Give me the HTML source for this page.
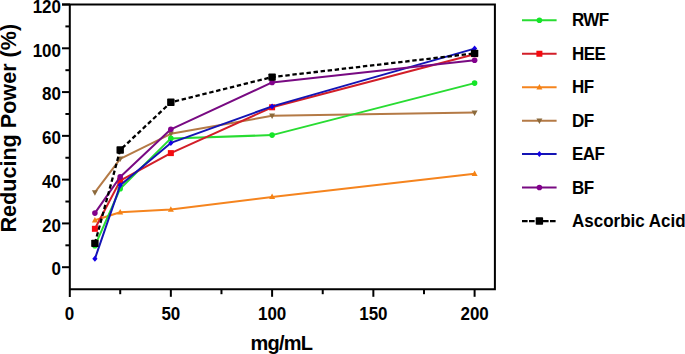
<!DOCTYPE html>
<html><head><meta charset="utf-8"><style>
html,body{margin:0;padding:0;background:#fff;width:685px;height:354px;overflow:hidden}
svg{display:block}
text{font-family:"Liberation Sans",sans-serif;font-weight:bold;fill:#000}
</style></head><body>
<svg width="685" height="354" viewBox="0 0 685 354">
<rect width="685" height="354" fill="#fff"/>
<g stroke="#000" stroke-width="2" fill="none" stroke-linecap="butt">
<path d="M62,4.6 H494.9 V289.2 H69.8 M69.8,3.6 V297"/>
<path d="M62,267.20 H70"/>
<path d="M62,223.42 H70"/>
<path d="M62,179.64 H70"/>
<path d="M62,135.86 H70"/>
<path d="M62,92.08 H70"/>
<path d="M62,48.30 H70"/>
<path d="M62,4.52 H70"/>
<path d="M65.4,245.31 H70"/>
<path d="M65.4,201.53 H70"/>
<path d="M65.4,157.75 H70"/>
<path d="M65.4,113.97 H70"/>
<path d="M65.4,70.19 H70"/>
<path d="M65.4,26.41 H70"/>
<path d="M170.85,289 V296.8"/>
<path d="M272.10,289 V296.8"/>
<path d="M373.35,289 V296.8"/>
<path d="M474.60,289 V296.8"/>
<path d="M120.22,289 V294.2"/>
<path d="M221.47,289 V294.2"/>
<path d="M322.73,289 V294.2"/>
<path d="M423.98,289 V294.2"/>
</g>
<g font-size="17" text-anchor="end">
<text transform="translate(61,275.40) scale(1,1.08)">0</text>
<text transform="translate(61,231.62) scale(1,1.08)">20</text>
<text transform="translate(61,187.84) scale(1,1.08)">40</text>
<text transform="translate(61,144.06) scale(1,1.08)">60</text>
<text transform="translate(61,100.28) scale(1,1.08)">80</text>
<text transform="translate(61,56.50) scale(1,1.08)">100</text>
<text transform="translate(61,12.72) scale(1,1.08)">120</text>
</g>
<g font-size="17" text-anchor="middle">
<text transform="translate(69.60,319.7) scale(1,1.08)">0</text>
<text transform="translate(170.85,319.7) scale(1,1.08)">50</text>
<text transform="translate(272.10,319.7) scale(1,1.08)">100</text>
<text transform="translate(373.35,319.7) scale(1,1.08)">150</text>
<text transform="translate(474.60,319.7) scale(1,1.08)">200</text>
</g>
<text font-size="21.6" transform="translate(15.5,232.6) rotate(-90)">Reducing Power (%)</text>
<text font-size="20" x="250.6" y="349.8" letter-spacing="-0.8">mg/mL</text>
<polyline points="94.90,220.30 120.20,212.30 170.85,209.50 272.10,196.90 474.60,173.70" fill="none" stroke="#f5841e" stroke-width="2" stroke-linejoin="round"/>
<path d="M94.90,217.00 L97.90,222.50 L91.90,222.50Z" fill="#f58214"/>
<path d="M120.20,209.00 L123.20,214.50 L117.20,214.50Z" fill="#f58214"/>
<path d="M170.85,206.20 L173.85,211.70 L167.85,211.70Z" fill="#f58214"/>
<path d="M272.10,193.60 L275.10,199.10 L269.10,199.10Z" fill="#f58214"/>
<path d="M474.60,170.40 L477.60,175.90 L471.60,175.90Z" fill="#f58214"/>
<polyline points="94.90,192.40 120.20,158.80 170.85,133.80 272.10,115.80 474.60,112.60" fill="none" stroke="#b47a46" stroke-width="2" stroke-linejoin="round"/>
<path d="M94.90,195.70 L97.90,190.20 L91.90,190.20Z" fill="#8c6a3c"/>
<path d="M120.20,162.10 L123.20,156.60 L117.20,156.60Z" fill="#8c6a3c"/>
<path d="M170.85,137.10 L173.85,131.60 L167.85,131.60Z" fill="#8c6a3c"/>
<path d="M272.10,119.10 L275.10,113.60 L269.10,113.60Z" fill="#8c6a3c"/>
<path d="M474.60,115.90 L477.60,110.40 L471.60,110.40Z" fill="#8c6a3c"/>
<polyline points="94.90,245.80 120.20,188.70 170.85,138.40 272.10,135.10 474.60,83.10" fill="none" stroke="#28dc32" stroke-width="2" stroke-linejoin="round"/>
<circle cx="94.90" cy="245.80" r="2.8" fill="#14e628"/>
<circle cx="120.20" cy="188.70" r="2.8" fill="#14e628"/>
<circle cx="170.85" cy="138.40" r="2.8" fill="#14e628"/>
<circle cx="272.10" cy="135.10" r="2.8" fill="#14e628"/>
<circle cx="474.60" cy="83.10" r="2.8" fill="#14e628"/>
<polyline points="94.90,228.80 120.20,180.70 170.85,153.10 272.10,107.30 474.60,54.20" fill="none" stroke="#d21e28" stroke-width="2" stroke-linejoin="round"/>
<rect x="91.90" y="225.80" width="6" height="6" fill="#f50a0f"/>
<rect x="117.20" y="177.70" width="6" height="6" fill="#f50a0f"/>
<rect x="167.85" y="150.10" width="6" height="6" fill="#f50a0f"/>
<rect x="269.10" y="104.30" width="6" height="6" fill="#f50a0f"/>
<rect x="471.60" y="51.20" width="6" height="6" fill="#f50a0f"/>
<polyline points="94.90,258.80 120.20,185.30 170.85,142.90 272.10,106.40 474.60,48.60" fill="none" stroke="#1414b4" stroke-width="2" stroke-linejoin="round"/>
<path d="M94.90,255.80 L97.50,258.80 L94.90,261.80 L92.30,258.80Z" fill="#1400e6"/>
<path d="M120.20,182.30 L122.80,185.30 L120.20,188.30 L117.60,185.30Z" fill="#1400e6"/>
<path d="M170.85,139.90 L173.45,142.90 L170.85,145.90 L168.25,142.90Z" fill="#1400e6"/>
<path d="M272.10,103.40 L274.70,106.40 L272.10,109.40 L269.50,106.40Z" fill="#1400e6"/>
<path d="M474.60,45.60 L477.20,48.60 L474.60,51.60 L472.00,48.60Z" fill="#1400e6"/>
<polyline points="94.90,213.10 120.20,176.90 170.85,129.30 272.10,82.40 474.60,60.30" fill="none" stroke="#780a82" stroke-width="2" stroke-linejoin="round"/>
<circle cx="94.90" cy="213.10" r="2.8" fill="#82008c"/>
<circle cx="120.20" cy="176.90" r="2.8" fill="#82008c"/>
<circle cx="170.85" cy="129.30" r="2.8" fill="#82008c"/>
<circle cx="272.10" cy="82.40" r="2.8" fill="#82008c"/>
<circle cx="474.60" cy="60.30" r="2.8" fill="#82008c"/>
<polyline points="94.90,243.40 120.20,150.00 170.85,102.30 272.10,77.10 474.60,53.40" fill="none" stroke="#000" stroke-width="2.3" stroke-dasharray="4.4 2.7"/>
<rect x="91.20" y="239.70" width="7.4" height="7.4" fill="#000" rx="0.8"/>
<rect x="116.50" y="146.30" width="7.4" height="7.4" fill="#000" rx="0.8"/>
<rect x="167.15" y="98.60" width="7.4" height="7.4" fill="#000" rx="0.8"/>
<rect x="268.40" y="73.40" width="7.4" height="7.4" fill="#000" rx="0.8"/>
<rect x="470.90" y="49.70" width="7.4" height="7.4" fill="#000" rx="0.8"/>
<path d="M522,20.30 H556.6" stroke="#28dc32" stroke-width="2"/>
<circle cx="539.40" cy="20.30" r="2.8" fill="#14e628"/>
<text font-size="17" transform="translate(572,26.30) scale(1,1.06)" letter-spacing="-0.6">RWF</text>
<path d="M522,53.75 H556.6" stroke="#d21e28" stroke-width="2"/>
<rect x="536.40" y="50.75" width="6" height="6" fill="#f50a0f"/>
<text font-size="17" transform="translate(572,59.75) scale(1,1.06)" letter-spacing="-0.6">HEE</text>
<path d="M522,87.20 H556.6" stroke="#f5841e" stroke-width="2"/>
<path d="M539.40,83.90 L542.40,89.40 L536.40,89.40Z" fill="#f58214"/>
<text font-size="17" transform="translate(572,93.20) scale(1,1.06)" letter-spacing="-0.6">HF</text>
<path d="M522,120.65 H556.6" stroke="#b47a46" stroke-width="2"/>
<path d="M539.40,123.95 L542.40,118.45 L536.40,118.45Z" fill="#8c6a3c"/>
<text font-size="17" transform="translate(572,126.65) scale(1,1.06)" letter-spacing="-0.6">DF</text>
<path d="M522,154.10 H556.6" stroke="#1414b4" stroke-width="2"/>
<path d="M539.40,151.10 L542.00,154.10 L539.40,157.10 L536.80,154.10Z" fill="#1400e6"/>
<text font-size="17" transform="translate(572,160.10) scale(1,1.06)" letter-spacing="-0.6">EAF</text>
<path d="M522,187.55 H556.6" stroke="#780a82" stroke-width="2"/>
<circle cx="539.40" cy="187.55" r="2.8" fill="#82008c"/>
<text font-size="17" transform="translate(572,193.55) scale(1,1.06)" letter-spacing="-0.6">BF</text>
<path d="M522,221.10 H556" stroke="#000" stroke-width="2.3" stroke-dasharray="5.6 1.4"/>
<rect x="535.70" y="217.30" width="7.4" height="7.4" fill="#000" rx="0.8"/>
<text font-size="17" transform="translate(572,227.00) scale(1,1.06)">Ascorbic Acid</text>
</svg></body></html>
